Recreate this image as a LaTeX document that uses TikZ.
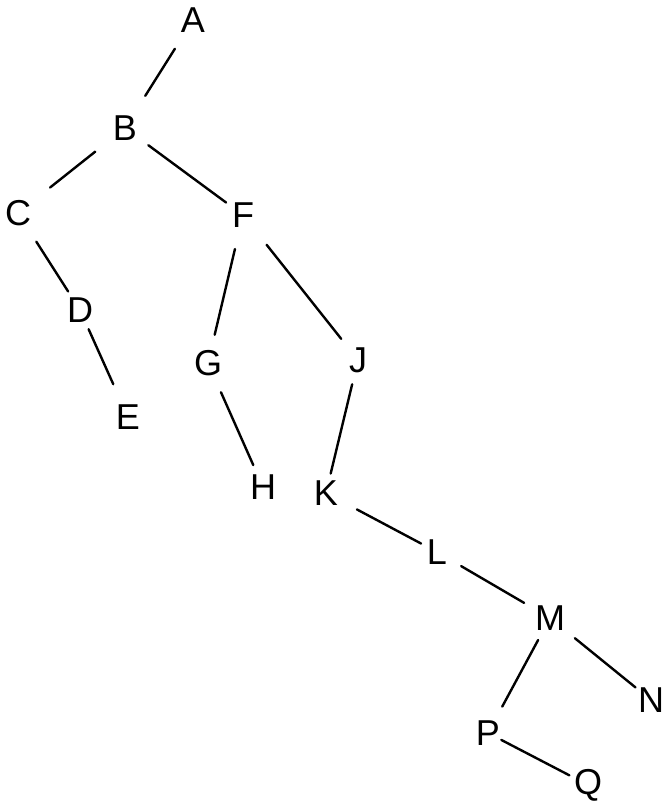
\documentclass[tikz,border=0pt]{standalone}
\usepackage{fontspec}
\setmainfont{Liberation Sans}
\begin{document}
\begin{tikzpicture}[x=1pt,y=-1pt,
  lbl/.style={inner sep=0pt,font=\fontsize{36}{36}\selectfont},
  edge/.style={line width=2.4pt,line cap=round}]
\useasboundingbox (0,0) rectangle (668,809);
\node[lbl] (A) at (193,20) {A};
\node[lbl] (B) at (125,128) {B};
\node[lbl] (C) at (18,213) {C};
\node[lbl] (F) at (243,215) {F};
\node[lbl] (D) at (80,310) {D};
\node[lbl] (E) at (128,417) {E};
\node[lbl] (G) at (208,363) {G};
\node[lbl] (J) at (358,360) {J};
\node[lbl] (H) at (263,487) {H};
\node[lbl] (K) at (326,493) {K};
\node[lbl] (L) at (437,552) {L};
\node[lbl] (M) at (550,618) {M};
\node[lbl] (N) at (651,700) {N};
\node[lbl] (P) at (488,733) {P};
\node[lbl] (Q) at (588,785) {Q};
\draw[edge,shorten <=34pt,shorten >=38pt] (A.center) -- (B.center);
\draw[edge,shorten <=38pt,shorten >=41pt] (B.center) -- (C.center);
\draw[edge,shorten <=29pt,shorten >=21pt] (B.center) -- (F.center);
\draw[edge,shorten <=34pt,shorten >=22pt] (C.center) -- (D.center);
\draw[edge,shorten <=21pt,shorten >=36pt] (D.center) -- (E.center);
\draw[edge,shorten <=35pt,shorten >=29pt] (F.center) -- (G.center);
\draw[edge,shorten <=38pt,shorten >=27pt] (F.center) -- (J.center);
\draw[edge,shorten <=32pt,shorten >=24pt] (G.center) -- (H.center);
\draw[edge,shorten <=25pt,shorten >=20pt] (J.center) -- (K.center);
\draw[edge,shorten <=35pt,shorten >=18pt] (K.center) -- (L.center);
\draw[edge,shorten <=28pt,shorten >=30pt] (L.center) -- (M.center);
\draw[edge,shorten <=32pt,shorten >=20pt] (M.center) -- (N.center);
\draw[edge,shorten <=25pt,shorten >=30pt] (M.center) -- (P.center);
\draw[edge,shorten <=15pt,shorten >=21pt] (P.center) -- (Q.center);
\end{tikzpicture}
\end{document}
